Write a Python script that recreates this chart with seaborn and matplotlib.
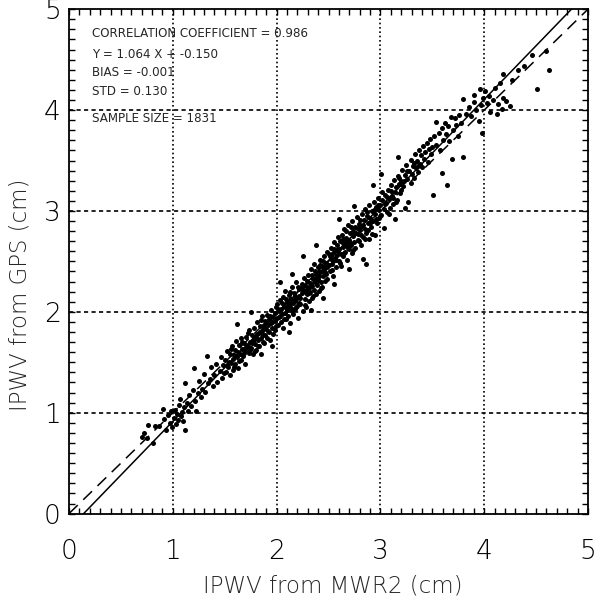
import numpy as np
import pandas as pd
import seaborn as sns
import matplotlib.pyplot as plt
from matplotlib.ticker import MultipleLocator

# IPWV pares (MWR2, GPS) leidos a ojo del grafico, agrupados por tramo de x
tramo_07_10 = [(0.70, 0.76), (0.72, 0.80), (0.75, 0.75), (0.76, 0.88), (0.81, 0.70), (0.83, 0.87),
               (0.87, 0.87), (0.91, 1.04), (0.92, 0.94), (0.95, 0.98), (0.97, 0.90), (0.98, 1.02),
               (0.99, 0.86), (0.93, 0.83)]

tramo_10_15 = [(1.01, 0.95), (1.02, 1.03), (1.03, 0.89), (1.04, 0.99), (1.05, 0.93), (1.06, 1.08),
               (1.07, 1.14), (1.08, 0.97), (1.09, 1.01), (1.10, 0.92), (1.11, 1.06), (1.12, 0.83),
               (1.12, 1.29), (1.14, 1.10), (1.15, 1.02), (1.16, 1.18), (1.18, 1.07), (1.19, 1.23),
               (1.20, 1.44), (1.21, 1.12), (1.22, 1.02), (1.24, 1.20), (1.25, 1.31), (1.27, 1.16),
               (1.28, 1.24), (1.30, 1.38), (1.31, 1.21), (1.33, 1.56), (1.34, 1.29), (1.36, 1.33),
               (1.37, 1.45), (1.39, 1.26), (1.40, 1.37), (1.42, 1.48), (1.43, 1.30), (1.45, 1.41),
               (1.46, 1.55), (1.47, 1.34), (1.48, 1.47), (1.49, 1.39)]

tramo_15_20 = [(1.50, 1.52), (1.51, 1.40), (1.52, 1.61), (1.53, 1.45), (1.54, 1.50), (1.55, 1.37),
               (1.55, 1.58), (1.56, 1.49), (1.57, 1.66), (1.58, 1.53), (1.58, 1.42), (1.59, 1.57),
               (1.60, 1.62), (1.60, 1.48), (1.61, 1.71), (1.62, 1.55), (1.63, 1.60), (1.63, 1.44),
               (1.64, 1.67), (1.65, 1.58), (1.66, 1.52), (1.66, 1.74), (1.67, 1.63), (1.68, 1.56),
               (1.69, 1.69), (1.70, 1.61), (1.70, 1.48), (1.71, 1.75), (1.72, 1.66), (1.73, 1.59),
               (1.73, 1.82), (1.74, 1.70), (1.75, 1.64), (1.76, 1.77), (1.77, 1.58), (1.77, 1.71),
               (1.78, 1.84), (1.79, 1.68), (1.80, 1.75), (1.80, 1.62), (1.81, 1.90), (1.82, 1.72),
               (1.83, 1.79), (1.83, 1.66), (1.84, 1.86), (1.85, 1.74), (1.86, 1.81), (1.86, 1.96),
               (1.87, 1.70), (1.88, 1.84), (1.89, 1.77), (1.89, 1.91), (1.90, 1.83), (1.91, 1.74),
               (1.91, 1.97), (1.92, 1.87), (1.93, 1.80), (1.93, 1.93), (1.94, 1.72), (1.95, 1.89),
               (1.95, 2.02), (1.96, 1.84), (1.97, 1.95), (1.97, 1.78), (1.98, 1.91), (1.99, 2.05),
               (1.99, 1.86), (1.62, 1.88), (1.75, 2.00), (1.85, 1.58), (1.96, 1.66)]

tramo_20_25 = [(2.00, 1.94), (2.00, 2.08), (2.01, 1.87), (2.02, 2.01), (2.02, 1.95), (2.03, 2.12),
               (2.04, 1.90), (2.04, 2.03), (2.05, 1.98), (2.06, 2.15), (2.06, 1.84), (2.07, 2.06),
               (2.08, 1.99), (2.08, 2.21), (2.09, 1.93), (2.10, 2.10), (2.10, 2.02), (2.11, 1.96),
               (2.12, 2.17), (2.12, 2.07), (2.13, 1.89), (2.14, 2.13), (2.14, 2.04), (2.15, 2.25),
               (2.16, 2.09), (2.16, 1.98), (2.17, 2.19), (2.18, 2.11), (2.18, 2.03), (2.19, 2.30),
               (2.20, 2.14), (2.20, 2.06), (2.21, 1.94), (2.22, 2.23), (2.22, 2.16), (2.23, 2.08),
               (2.24, 2.28), (2.24, 2.19), (2.25, 2.01), (2.26, 2.21), (2.26, 2.34), (2.27, 2.13),
               (2.28, 2.26), (2.28, 2.05), (2.29, 2.18), (2.30, 2.37), (2.30, 2.24), (2.31, 2.11),
               (2.32, 2.29), (2.32, 2.20), (2.33, 2.42), (2.34, 2.26), (2.34, 2.14), (2.35, 2.33),
               (2.36, 2.22), (2.36, 2.47), (2.37, 2.30), (2.38, 2.18), (2.38, 2.38), (2.39, 2.27),
               (2.40, 2.44), (2.40, 2.33), (2.41, 2.21), (2.42, 2.39), (2.42, 2.51), (2.43, 2.30),
               (2.44, 2.45), (2.44, 2.25), (2.45, 2.36), (2.46, 2.55), (2.46, 2.42), (2.47, 2.31),
               (2.48, 2.48), (2.48, 2.38), (2.49, 2.59), (2.49, 2.44), (2.03, 2.30), (2.12, 1.80),
               (2.25, 2.55), (2.33, 2.02), (2.45, 2.14), (2.15, 2.38), (2.38, 2.66)]

tramo_25_30 = [(2.50, 2.46), (2.50, 2.57), (2.51, 2.40), (2.52, 2.52), (2.52, 2.63), (2.53, 2.47),
               (2.54, 2.58), (2.54, 2.36), (2.55, 2.69), (2.56, 2.53), (2.56, 2.61), (2.57, 2.44),
               (2.58, 2.66), (2.58, 2.56), (2.59, 2.74), (2.60, 2.50), (2.60, 2.62), (2.61, 2.70),
               (2.62, 2.57), (2.62, 2.45), (2.63, 2.76), (2.64, 2.64), (2.64, 2.55), (2.65, 2.82),
               (2.66, 2.68), (2.66, 2.59), (2.67, 2.73), (2.68, 2.51), (2.68, 2.65), (2.69, 2.86),
               (2.70, 2.71), (2.70, 2.62), (2.71, 2.78), (2.72, 2.66), (2.73, 2.90), (2.73, 2.58),
               (2.74, 2.75), (2.75, 2.69), (2.76, 2.84), (2.76, 2.63), (2.77, 2.94), (2.78, 2.77),
               (2.79, 2.70), (2.79, 2.87), (2.80, 2.81), (2.81, 2.66), (2.82, 2.97), (2.82, 2.85),
               (2.83, 2.74), (2.84, 2.91), (2.85, 2.82), (2.85, 3.02), (2.86, 2.47), (2.86, 2.78),
               (2.87, 2.95), (2.88, 2.88), (2.89, 2.72), (2.89, 3.06), (2.90, 2.93), (2.91, 2.84),
               (2.92, 3.00), (2.93, 3.26), (2.93, 2.90), (2.94, 3.09), (2.95, 2.76), (2.95, 2.97),
               (2.96, 3.04), (2.97, 2.88), (2.98, 3.13), (2.99, 3.01), (2.99, 2.93), (2.60, 2.92),
               (2.75, 3.05), (2.83, 2.52), (2.55, 2.28), (2.70, 2.42)]

tramo_30_35 = [(3.00, 3.06), (3.01, 3.37), (3.01, 2.96), (3.02, 3.11), (3.03, 2.83), (3.03, 3.02),
               (3.04, 3.16), (3.05, 3.08), (3.06, 2.99), (3.07, 3.21), (3.08, 3.12), (3.09, 3.03),
               (3.10, 3.26), (3.11, 3.15), (3.12, 3.07), (3.13, 3.31), (3.14, 2.92), (3.14, 3.19),
               (3.15, 3.24), (3.16, 3.11), (3.17, 3.53), (3.17, 3.35), (3.18, 3.27), (3.19, 3.18),
               (3.20, 3.30), (3.21, 3.41), (3.22, 3.25), (3.24, 3.03), (3.24, 3.36), (3.25, 3.46),
               (3.26, 3.32), (3.27, 3.09), (3.28, 3.40), (3.29, 3.51), (3.30, 3.37), (3.31, 3.45),
               (3.32, 3.33), (3.33, 3.56), (3.34, 3.43), (3.35, 3.50), (3.36, 3.39), (3.37, 3.60),
               (3.38, 3.47), (3.39, 3.55), (3.40, 3.44), (3.41, 3.64), (3.42, 3.52), (3.43, 3.58),
               (3.45, 3.67), (3.46, 3.49), (3.47, 3.61), (3.48, 3.71), (3.49, 3.56), (3.51, 3.16),
               (3.50, 3.63)]

tramo_35_40 = [(3.52, 3.74), (3.54, 3.88), (3.54, 3.65), (3.56, 3.77), (3.57, 3.60), (3.59, 3.38),
               (3.59, 3.82), (3.60, 3.70), (3.62, 3.87), (3.63, 3.76), (3.64, 3.26), (3.65, 3.84),
               (3.66, 3.69), (3.68, 3.93), (3.69, 3.52), (3.70, 3.80), (3.72, 3.92), (3.73, 3.85),
               (3.75, 3.74), (3.76, 3.95), (3.78, 3.87), (3.80, 3.53), (3.80, 4.11), (3.82, 3.96),
               (3.85, 4.03), (3.87, 3.94), (3.90, 4.08), (3.90, 4.15), (3.92, 4.00), (3.95, 3.89),
               (3.96, 4.21), (3.97, 4.05), (3.98, 3.77), (3.99, 4.12)]

tramo_40_47 = [(4.01, 4.19), (4.03, 4.07), (4.05, 4.14), (4.06, 3.98), (4.08, 4.10), (4.10, 4.22),
               (4.12, 3.96), (4.13, 4.06), (4.15, 4.27), (4.17, 4.01), (4.18, 4.12), (4.18, 4.36),
               (4.21, 4.09), (4.25, 4.04), (4.27, 4.30), (4.33, 4.40), (4.38, 4.44), (4.46, 4.55),
               (4.51, 4.21), (4.60, 4.59), (4.62, 4.40)]

# nucleo denso de la nube (zona mas negra del grafico)
tramo_nucleo = [(1.52, 1.47), (1.56, 1.63), (1.59, 1.45), (1.61, 1.56), (1.64, 1.51), (1.67, 1.70),
                (1.69, 1.59), (1.71, 1.64), (1.72, 1.79), (1.74, 1.62), (1.76, 1.69), (1.78, 1.73),
                (1.79, 1.61), (1.81, 1.78), (1.82, 1.66), (1.84, 1.80), (1.85, 1.92), (1.87, 1.77),
                (1.88, 1.69), (1.90, 1.89), (1.92, 1.81), (1.94, 1.96), (1.96, 1.90), (1.98, 1.82),
                (2.01, 2.03), (2.03, 1.96), (2.05, 2.09), (2.07, 1.93), (2.09, 2.13), (2.11, 2.04),
                (2.13, 2.20), (2.15, 2.01), (2.17, 2.12), (2.19, 2.05), (2.21, 2.25), (2.23, 2.14),
                (2.25, 2.22), (2.27, 2.07), (2.29, 2.31), (2.31, 2.19), (2.33, 2.28), (2.35, 2.16),
                (2.37, 2.40), (2.39, 2.31), (2.41, 2.36), (2.43, 2.24), (2.45, 2.50), (2.47, 2.39),
                (2.49, 2.33), (2.51, 2.55), (2.53, 2.41), (2.55, 2.62), (2.57, 2.51), (2.59, 2.60),
                (2.61, 2.48), (2.63, 2.69), (2.65, 2.58), (2.67, 2.80), (2.69, 2.63), (2.71, 2.68),
                (2.72, 2.84), (2.74, 2.61), (2.76, 2.78), (2.78, 2.71), (2.80, 2.91), (2.81, 2.76),
                (2.83, 2.86), (2.85, 2.72), (2.87, 2.99), (2.88, 2.81), (2.90, 2.88), (2.92, 2.77),
                (2.94, 3.01), (2.96, 2.92), (2.98, 3.06), (3.00, 2.95), (3.02, 3.19), (3.04, 3.07),
                (3.06, 3.14), (3.08, 2.97), (3.10, 3.20), (3.12, 3.13), (3.15, 3.09), (3.18, 3.33),
                (3.20, 3.21), (3.23, 3.30), (3.26, 3.40), (3.29, 3.28), (3.32, 3.48), (3.36, 3.45),
                (2.08, 2.05), (2.18, 2.16), (2.28, 2.21), (2.38, 2.34), (2.48, 2.45), (2.58, 2.61),
                (2.68, 2.70), (2.78, 2.83), (1.98, 1.99), (1.88, 1.87), (2.14, 2.09), (2.24, 2.25),
                (2.34, 2.37), (2.44, 2.40), (2.54, 2.50), (2.64, 2.72), (2.74, 2.80), (2.22, 2.09),
                (2.32, 2.25), (2.42, 2.46)]

# Recta de ajuste y estadisticos que figuran en el grafico
pendiente = 1.064
ordenada = -0.150
textos = ['CORRELATION COEFFICIENT = 0.986',
          'Y = 1.064 X + -0.150',
          'BIAS = -0.001',
          'STD = 0.130',
          'SAMPLE SIZE = 1831']

todos = (tramo_07_10 + tramo_10_15 + tramo_15_20 + tramo_20_25 + tramo_25_30 +
         tramo_30_35 + tramo_35_40 + tramo_40_47 + tramo_nucleo)
datos = pd.DataFrame(todos, columns=['MWR2', 'GPS'])

sns.set_style('ticks')
plt.rcParams['font.family'] = ['DejaVu Sans']

fig = plt.figure(figsize=(5.99, 6.0), dpi=100)
ax = fig.add_axes([69 / 599, 1 - 513.6 / 600, 519 / 599, 504.4 / 600])

# grilla punteada
for v in [1, 2, 3, 4]:
    ax.axvline(v, color='black', lw=1.2, linestyle=(0, (1, 1.6)), zorder=1)
    ax.axhline(v, color='black', lw=1.2, linestyle=(0, (2.5, 2)), zorder=1)

sns.scatterplot(x='MWR2', y='GPS', data=datos, color='black', s=13, linewidth=0,
                ax=ax, zorder=3)

xs = np.array([0, 5])
ax.plot(xs, pendiente * xs + ordenada, color='black', lw=1.1, zorder=4)
ax.plot(xs, xs, color='black', lw=1.1, linestyle=(0, (8, 5)), zorder=4)

ax.set_xlim(0, 5)
ax.set_ylim(0, 5)
ax.xaxis.set_major_locator(MultipleLocator(1))
ax.yaxis.set_major_locator(MultipleLocator(1))
ax.xaxis.set_minor_locator(MultipleLocator(0.1))
ax.yaxis.set_minor_locator(MultipleLocator(0.1))
ax.tick_params(which='both', direction='in', top=True, right=True, width=1, color='black',
               length=4.5)
ax.tick_params(which='major', labelsize=19, labelcolor='black')
ax.tick_params(axis='x', which='major', pad=18)
ax.tick_params(axis='y', which='major', pad=6)
for lab in ax.get_xticklabels() + ax.get_yticklabels():
    lab.set_fontweight('light')
for lado in ax.spines.values():
    lado.set_linewidth(1.3)
    lado.set_color('black')

ax.set_xlabel('IPWV from MWR2 (cm)', fontsize=16.5, fontweight='light')
ax.set_ylabel('IPWV from GPS (cm)', fontsize=16.5, fontweight='light')
ax.xaxis.label.set_va('center')
ax.yaxis.label.set_va('center')
ax.xaxis.set_label_coords(0.509, -0.1435)
ax.yaxis.set_label_coords(-0.095, 0.433)

ys = [4.76, 4.55, 4.37, 4.18, 3.92]
for t, yy in zip(textos, ys):
    ax.text(0.22, yy, t, fontsize=8.6, va='center', ha='left', zorder=5)

fig.savefig('out.png', dpi=100)
